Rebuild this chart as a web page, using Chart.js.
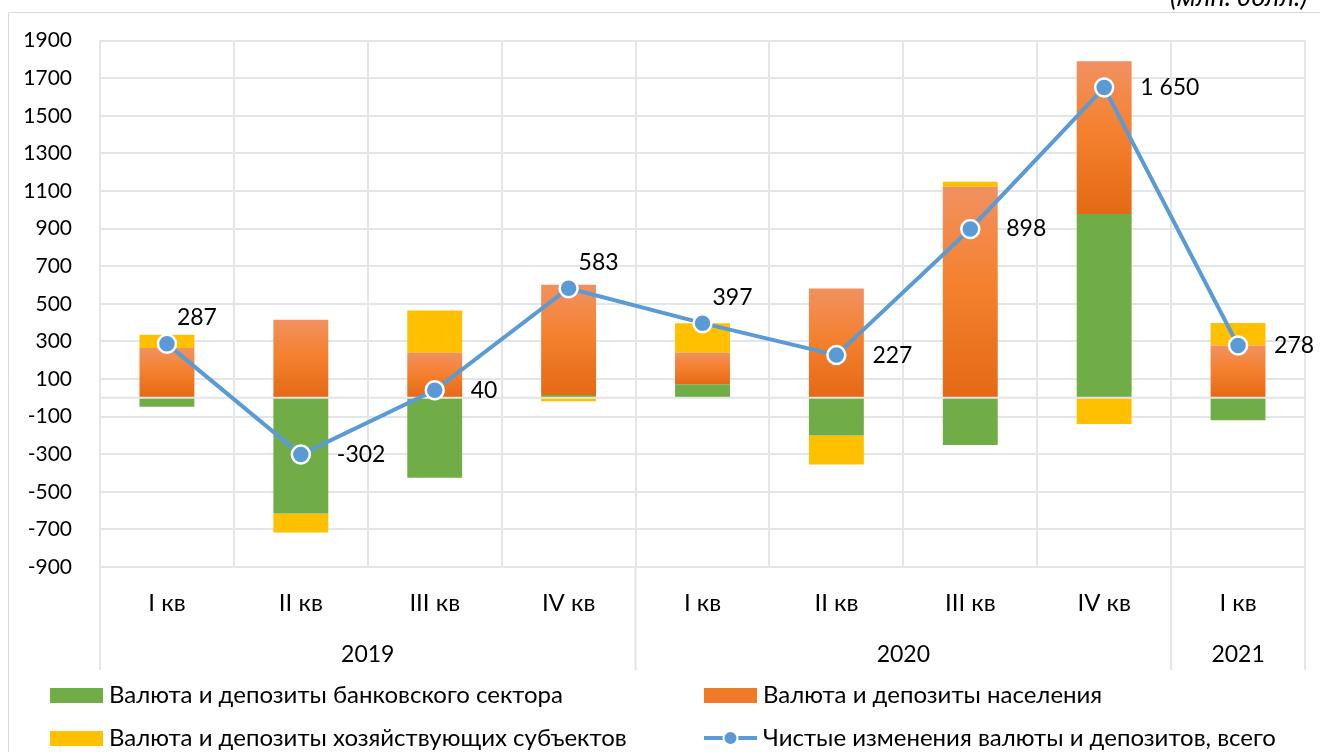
<!DOCTYPE html>
<html>
<head>
<meta charset="utf-8">
<script src="https://cdn.jsdelivr.net/npm/chart.js@4"></script>
<style>
  html, body { margin: 0; padding: 0; background: #fff; }
  #wrap { width: 1320px; height: 752px; position: relative; }
</style>
</head>
<body>
<div id="wrap"><canvas id="chart"></canvas></div>
<script>
// quarters and years (multi-level category axis)
const quarters = ["I кв", "II кв", "III кв", "IV кв", "I кв", "II кв", "III кв", "IV кв", "I кв"];
const years = ["2019", "2020", "2021"];
const yearSpans = [4, 4, 1];

// series, млн. долл.
const bankSector = [-48, -615, -425, 15, 72, -200, -251, 977, -120];
const households = [265, 415, 240, 586, 168, 582, 1122, 813, 278];
const business = [70, -102, 225, -18, 157, -155, 27, -140, 120];
const netTotal = [287, -302, 40, 583, 397, 227, 898, 1650, 278];

// where each total label sits relative to its point
const labelPlacement = ["above", "right", "right", "above", "above", "right", "right", "right", "right"];

const FONT = "Lato, 'Open Sans', sans-serif";
const GRID = "#E2E5E9";
const LINE_BLUE = "#5B9BD5";

function orangeFill(ctx) {
    const chart = ctx.chart;
    const y = chart.scales.y;
    if (!chart.chartArea || !y || ctx.dataIndex === undefined) return "#F47F2A";
    const i = ctx.dataIndex;
    const base = bankSector[i] > 0 ? bankSector[i] : 0;
    const top = base + households[i];
    const y0 = y.getPixelForValue(top);
    const y1 = y.getPixelForValue(base);
    if (!isFinite(y0) || !isFinite(y1) || y0 === y1) return "#F47F2A";
    const g = chart.ctx.createLinearGradient(0, y0, 0, y1);
    g.addColorStop(0, "#F19160");
    g.addColorStop(0.45, "#F58130");
    g.addColorStop(1, "#E46915");
    return g;
}

const fmt = v => v.toLocaleString("ru-RU");

const extras = {
    id: "extras",
    beforeDatasetDraw(chart, args) {
        if (args.index !== 3) return;
        const { ctx, chartArea } = chart;
        const y0 = chart.scales.y.getPixelForValue(0);
        ctx.save();
        ctx.strokeStyle = "#E4E4E4";
        ctx.lineWidth = 2;
        ctx.beginPath();
        ctx.moveTo(chartArea.left, y0);
        ctx.lineTo(chartArea.right, y0);
        ctx.stroke();
        ctx.restore();
    },
    afterDatasetsDraw(chart) {
        const { ctx } = chart;
        const meta = chart.getDatasetMeta(3);
        ctx.save();
        ctx.font = "23px " + FONT;
        ctx.fillStyle = "#000";
        ctx.textBaseline = "middle";
        ctx.textAlign = "left";
        meta.data.forEach((pt, i) => {
            const txt = fmt(netTotal[i]);
            if (labelPlacement[i] === "above") {
                ctx.fillText(txt, pt.x + 10, pt.y - 26);
            } else {
                ctx.fillText(txt, pt.x + 36, pt.y);
            }
        });
        ctx.restore();
    },
    afterDraw(chart) {
        const { ctx, chartArea } = chart;
        const x = chart.scales.x;
        ctx.save();

        // outer frame
        ctx.strokeStyle = "#D9D9D9";
        ctx.lineWidth = 1;
        ctx.beginPath();
        ctx.moveTo(8.5, 752);
        ctx.lineTo(8.5, 12.5);
        ctx.lineTo(1320, 12.5);
        ctx.stroke();

        // unit caption (cut by the top edge)
        ctx.font = "italic 27px " + FONT;
        ctx.fillStyle = "#000";
        ctx.textAlign = "left";
        ctx.textBaseline = "alphabetic";
        ctx.fillText("(млн. долл.)", 1170, 6);

        // quarter labels
        ctx.font = "24px " + FONT;
        ctx.textAlign = "center";
        ctx.textBaseline = "middle";
        quarters.forEach((q, i) => {
            ctx.fillText(q, x.getPixelForValue(i), 603);
        });

        // year labels and separators
        ctx.font = "23px " + FONT;
        const half = (x.getPixelForValue(1) - x.getPixelForValue(0)) / 2;
        ctx.strokeStyle = GRID;
        ctx.lineWidth = 2;
        let start = 0;
        const seps = [x.getPixelForValue(0) - half];
        years.forEach((yr, k) => {
            const end = start + yearSpans[k] - 1;
            const cx = (x.getPixelForValue(start) + x.getPixelForValue(end)) / 2;
            ctx.fillText(yr, cx, 655);
            seps.push(x.getPixelForValue(end) + half);
            start = end + 1;
        });
        ctx.beginPath();
        seps.forEach(sx => {
            ctx.moveTo(sx, chartArea.bottom);
            ctx.lineTo(sx, 670);
        });
        ctx.stroke();

        // legend
        const order = [0, 1, 2, 3];
        const cols = [50, 704];
        const rows = [695, 738];
        ctx.font = "24px " + FONT;
        ctx.textAlign = "left";
        order.forEach((di, n) => {
            const ds = chart.data.datasets[di];
            const lx = cols[n % 2];
            const ly = rows[Math.floor(n / 2)];
            if (ds.type === "line") {
                ctx.strokeStyle = LINE_BLUE;
                ctx.lineWidth = 4;
                ctx.beginPath();
                ctx.moveTo(lx, ly);
                ctx.lineTo(lx + 53, ly);
                ctx.stroke();
                ctx.beginPath();
                ctx.arc(lx + 26.5, ly, 7, 0, Math.PI * 2);
                ctx.fillStyle = LINE_BLUE;
                ctx.fill();
                ctx.strokeStyle = "#fff";
                ctx.lineWidth = 2;
                ctx.stroke();
            } else {
                ctx.fillStyle = ds.legendColor;
                ctx.fillRect(lx, ly - 7, 53, 15);
            }
            ctx.fillStyle = "#000";
            ctx.fillText(ds.label, lx + 59, ly);
        });
        ctx.restore();
    }
};

new Chart(document.getElementById("chart"), {
    data: {
        labels: quarters,
        datasets: [
            {
                type: "bar",
                label: "Валюта и депозиты банковского сектора",
                data: bankSector,
                backgroundColor: "#70AD47",
                legendColor: "#70AD47",
                stack: "bars",
                order: 1,
            },
            {
                type: "bar",
                label: "Валюта и депозиты населения",
                data: households,
                backgroundColor: orangeFill,
                legendColor: "#F07A28",
                stack: "bars",
                order: 1,
            },
            {
                type: "bar",
                label: "Валюта и депозиты хозяйствующих субъектов",
                data: business,
                backgroundColor: "#FFC000",
                legendColor: "#FFC000",
                stack: "bars",
                order: 1,
            },
            {
                type: "line",
                label: "Чистые изменения валюты и депозитов, всего",
                data: netTotal,
                borderColor: LINE_BLUE,
                borderWidth: 4,
                pointRadius: 9,
                pointBorderWidth: 2.5,
                pointBackgroundColor: LINE_BLUE,
                pointBorderColor: "#fff",
                stack: "line",
                order: 0,
                tension: 0,
            },
        ],
    },
    options: {
        responsive: true,
        maintainAspectRatio: false,
        animation: false,
        layout: { padding: { left: 0, right: 15, top: 39, bottom: 185 } },
        plugins: {
            legend: { display: false },
            tooltip: { enabled: false },
        },
        datasets: {
            bar: { categoryPercentage: 1, barPercentage: 0.41 },
        },
        scales: {
            x: {
                stacked: true,
                offset: true,
                grid: { offset: true, color: GRID, lineWidth: 2, drawTicks: false },
                border: { display: false },
                ticks: { display: false },
                afterFit(scale) { scale.height = 0; },
            },
            y: {
                stacked: true,
                min: -900,
                max: 1900,
                ticks: {
                    stepSize: 200,
                    padding: 28,
                    color: "#000",
                    font: { family: FONT, size: 21 },
                    callback: v => String(v),
                },
                grid: { color: GRID, lineWidth: 2, drawTicks: false },
                border: { display: false },
                afterFit(scale) { scale.width = 100; },
            },
        },
    },
    plugins: [extras],
});
</script>
</body>
</html>
